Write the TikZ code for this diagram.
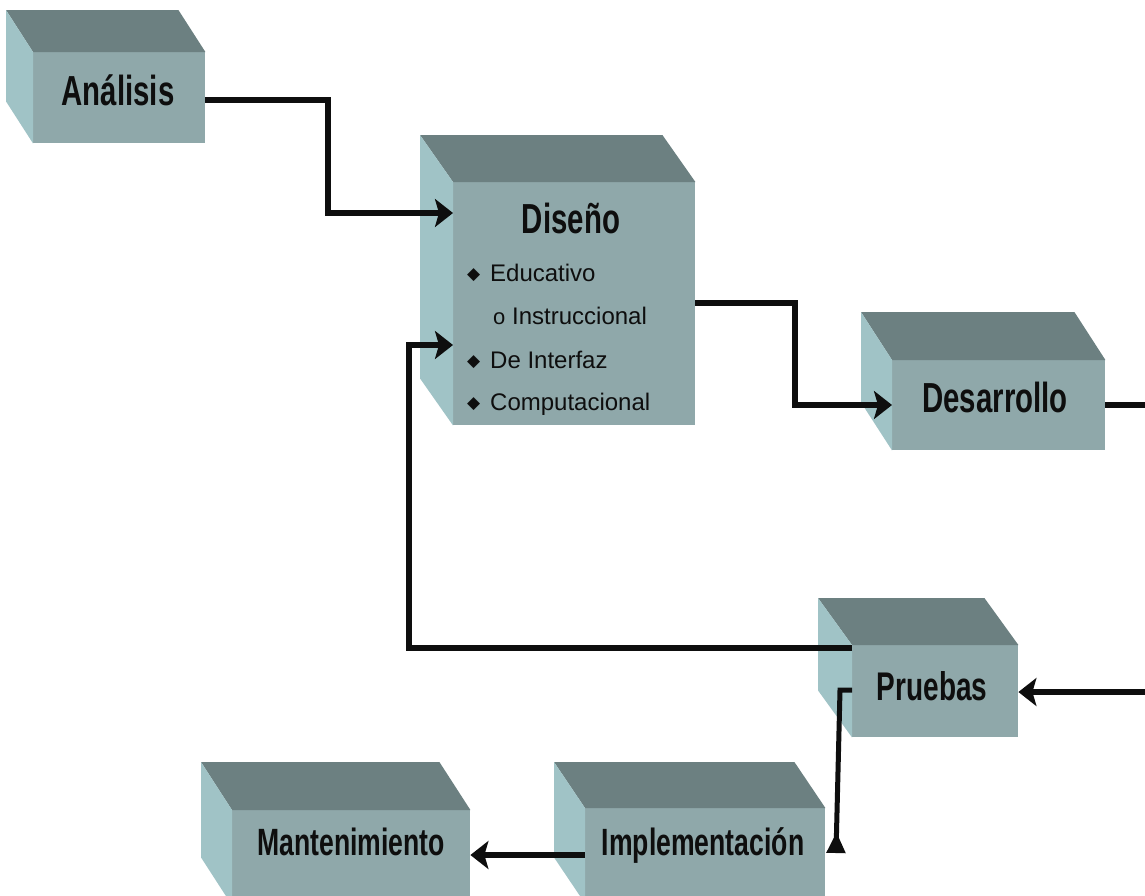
\documentclass[tikz,border=0pt]{standalone}
\usepackage{fontspec}
\usetikzlibrary{arrows.meta}

% condensed bold face for the box titles, plain face for the list
\newfontfamily\titlefont{Liberation Sans}[FakeStretch=0.7]
\newfontfamily\listfont{Liberation Sans}
\newfontfamily\symfont{DejaVu Sans}

\definecolor{frontc}{HTML}{8FA8AA}
\definecolor{topc}{HTML}{6C8081}
\definecolor{sidec}{HTML}{A0C3C6}
\definecolor{inkc}{HTML}{0E0E0E}

\tikzset{
  front/.style={draw=none, fill=frontc, rectangle, inner sep=0pt, anchor=north west},
  boxtitle/.style={font=\titlefont\bfseries\fontsize{#1}{#1}\selectfont,
                   inner sep=0pt, anchor=base, text=inkc},
  boxtitle/.default=42,
  listitem/.style={font=\listfont\fontsize{24}{24}\selectfont,
                   inner sep=0pt, anchor=base west, text=inkc},
  conn/.style={draw=inkc, line width=6pt,
               -{Stealth[length=18pt,width=28pt,inset=4pt]}},
}

% a block: front face as a node, top and left faces drawn beside it
% #1 name, #2 #3 top-left corner of the front, #4 width, #5 height, #6 #7 depth
\newcommand\cubebox[7]{%
  \node[front, minimum width=#4pt, minimum height=#5pt] (#1) at (#2,#3) {};
  \fill[topc] (#1.north west) -- (#1.north east)
     -- ([shift={(-#6,-#7)}]#1.north east) -- ([shift={(-#6,-#7)}]#1.north west) -- cycle;
  \fill[sidec] (#1.north west) -- ([shift={(-#6,-#7)}]#1.north west)
     -- ([shift={(-#6,-#7)}]#1.south west) -- (#1.south west) -- cycle;
}

\newcommand\bul{\makebox[23pt][l]{\raisebox{2pt}{\symfont\fontsize{17}{17}\selectfont ◆}}}
\newcommand\subbul{\makebox[19pt][l]{\fontsize{22}{22}\selectfont o}}

\begin{document}
\begin{tikzpicture}[x=1pt, y=-1pt]
  \useasboundingbox (0,0) rectangle (1145,895);
  \clip (0,0) rectangle (1145,895);
  \fill[white] (0,0) rectangle (1145,895);

  % blocks
  \cubebox{ana}{33}{52}{172}{91}{27}{42}
  \cubebox{dis}{453}{182}{242}{243}{33}{47}
  \cubebox{des}{892}{360}{213}{90}{31}{48}
  \cubebox{pru}{852}{645}{166}{92}{34}{47}
  \cubebox{man}{232}{810}{238}{95}{31}{48}
  \cubebox{imp}{585}{808}{240}{95}{31}{46}

  % titles
  \node[boxtitle] (anat) at (118,105) {Análisis};
  \node[boxtitle] (dist) at (571,233) {Diseño};
  \node[boxtitle] (dest) at (995,412) {Desarrollo};
  \node[boxtitle=40] (prut) at (932,700) {Pruebas};
  \node[boxtitle=38] (mant) at (351,855) {Mantenimiento};
  \node[boxtitle=38] (impt) at (703,855) {Implementación};

  % design topics
  \node[listitem] (li1) at (467,281) {\bul Educativo};
  \node[listitem] (li2) at (493,324) {\subbul Instruccional};
  \node[listitem] (li3) at (467,368) {\bul De Interfaz};
  \node[listitem] (li4) at (467,410) {\bul Computacional};

  % flow (the right-hand return runs just past the edge)
  \draw[conn] (ana.east |- 0,100) -- (328,100) -- (328,213) -- (dis.west |- 0,213);
  \draw[conn] (dis.east |- 0,303) -- (795,303) -- (795,405) -- (des.west |- 0,405);
  \draw[conn] (des.east |- 0,405) -- (1150,405) -- (1150,692) -- (pru.east |- 0,692);
  \draw[conn] (pru.west |- 0,648) -- (409,648) -- (409,345) -- (dis.west |- 0,345);
  \coordinate (imptip) at (836,853);
  \draw[draw=inkc, line width=5pt, -{Triangle[reversed,length=21pt,width=18pt]}]
    (pru.west |- 0,690) -- (840,690) -- (imptip);
  \draw[conn] (imp.west |- 0,855) -- (man.east |- 0,855);
\end{tikzpicture}
\end{document}
